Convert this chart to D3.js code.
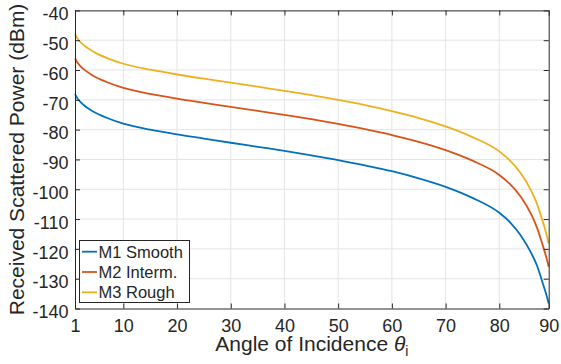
<!DOCTYPE html>
<html>
<head>
<meta charset="utf-8">
<script src="https://cdn.jsdelivr.net/npm/d3@7"></script>
<style>
  body { margin: 0; background: #fff; }
  svg { display: block; font-family: 'Liberation Sans', Arial, Helvetica, sans-serif; }
  .axis path { stroke: #262626; }
  .axis line { stroke: #262626; }
  .axis text { fill: #262626; font-size: 18px; }
</style>
</head>
<body>
<div class="chart"></div>
<script>
const w = 561,
      h = 364;

// angle of incidence (deg)
const angles = [1, 1.5, 2, 3, 4, 5, 7, 10, 15, 20, 25, 30, 35, 40, 45, 50, 55, 60, 65, 70, 75, 80, 82, 84, 86, 87, 88, 88.7, 89.2];

// received scattered power (dBm)
const smooth = [-68.1, -69.6, -70.7, -72.3, -73.5, -74.5, -76.1, -78.0, -80.0, -81.6, -83.0, -84.4, -85.75, -87.1, -88.6, -90.2, -92.0, -93.95, -96.35, -99.2, -102.9, -107.9, -111.1, -115.5, -121.6, -125.5, -131.0, -135.0, -138.3];
const interm = [-56.1, -57.6, -58.7, -60.3, -61.5, -62.5, -64.1, -66.0, -68.0, -69.6, -71.0, -72.35, -73.7, -75.05, -76.5, -78.1, -79.85, -81.8, -84.1, -86.85, -90.4, -95.2, -98.3, -102.5, -108.6, -112.8, -118.3, -122.5, -126.0];
const rough = [-48.0, -49.5, -50.6, -52.2, -53.4, -54.4, -56.0, -57.9, -59.9, -61.5, -62.9, -64.2, -65.6, -67.0, -68.45, -70.05, -71.8, -73.8, -76.1, -78.9, -82.5, -87.3, -90.4, -94.6, -100.7, -104.8, -110.3, -114.5, -118.2];

const seriesNames = ['M1 Smooth', 'M2 Interm.', 'M3 Rough'];
const xTicks = [1, 10, 20, 30, 40, 50, 60, 70, 80, 90];
const yTicks = [-40, -50, -60, -70, -80, -90, -100, -110, -120, -130, -140];

const colors = ['#0072BD', '#D95319', '#EDB120'];
const series = [smooth, interm, rough].map((vals, i) => ({
  name: seriesNames[i],
  color: colors[i],
  points: angles.map((a, j) => ({ a: a, v: vals[j] }))
}));

const pLeft = 75, pRight = 548.7, pTop = 10.4, pBottom = 308.5;

const svg = d3.select('.chart')
  .append('svg')
  .attr('width', w)
  .attr('height', h);

const xScale = d3.scaleLinear()
  .domain([1, 89.2])
  .range([pLeft, pRight])
  .clamp(true);

const yScale = d3.scaleLinear()
  .domain([-140, -40])
  .range([pBottom, pTop]);

// grid
const grid = svg.append('g').attr('class', 'grid');
grid.selectAll('.gx')
  .data(xTicks.slice(1, -1))
  .enter()
  .append('line')
  .attr('x1', d => xScale(d))
  .attr('x2', d => xScale(d))
  .attr('y1', pTop)
  .attr('y2', pBottom)
  .style('stroke', '#e4e4e4')
  .style('stroke-width', 1);
grid.selectAll('.gy')
  .data(yTicks.slice(1, -1))
  .enter()
  .append('line')
  .attr('x1', pLeft)
  .attr('x2', pRight)
  .attr('y1', d => yScale(d))
  .attr('y2', d => yScale(d))
  .style('stroke', '#e4e4e4')
  .style('stroke-width', 1);

// curves
const line = d3.line()
  .x(d => xScale(d.a))
  .y(d => yScale(d.v))
  .curve(d3.curveMonotoneX);

svg.selectAll('.curve')
  .data(series)
  .enter()
  .append('path')
  .attr('class', 'curve')
  .attr('d', d => line(d.points))
  .style('fill', 'none')
  .style('stroke', d => d.color)
  .style('stroke-width', 1.8)
  .style('stroke-linejoin', 'round');

// axes (ticks point inward, box on)
const plain = d => String(d);
const xAxis = d3.axisBottom(xScale).tickValues(xTicks).tickFormat(plain).tickSizeInner(-5).tickSizeOuter(0).tickPadding(11);
const yAxis = d3.axisLeft(yScale).tickValues(yTicks).tickFormat(plain).tickSizeInner(-5).tickSizeOuter(0).tickPadding(6.5);

svg.append('g')
  .attr('class', 'axis')
  .attr('transform', `translate(0, ${pBottom})`)
  .call(xAxis)
  .selectAll('text')
  .attr('dy', '0.71em');

svg.append('g')
  .attr('class', 'axis')
  .attr('transform', `translate(${pLeft}, 0)`)
  .call(yAxis)
  .selectAll('text')
  .attr('dy', '0.51em');

svg.append('g')
  .attr('class', 'axis')
  .attr('transform', `translate(0, ${pTop})`)
  .call(d3.axisTop(xScale).tickValues(xTicks).tickSizeInner(-5).tickSizeOuter(0).tickFormat(''));

svg.append('g')
  .attr('class', 'axis')
  .attr('transform', `translate(${pRight}, 0)`)
  .call(d3.axisRight(yScale).tickValues(yTicks).tickSizeInner(-5).tickSizeOuter(0).tickFormat(''));

// axis titles
const xTitle = svg.append('text')
  .attr('x', (pLeft + pRight) / 2)
  .attr('y', 351)
  .style('text-anchor', 'middle')
  .style('font-size', '21px')
  .style('fill', '#262626');
xTitle.append('tspan').text('Angle of Incidence ');
xTitle.append('tspan').style('font-style', 'italic').text('θ');
xTitle.append('tspan').attr('dy', 5).style('font-size', '14px').text('i');

svg.append('text')
  .attr('transform', `translate(24, ${(pTop + pBottom) / 2}) rotate(-90)`)
  .style('text-anchor', 'middle')
  .style('font-size', '21px')
  .style('fill', '#262626')
  .text('Received Scattered Power (dBm)');

// legend
const legend = svg.append('g').attr('id', 'legend');
legend.append('rect')
  .attr('x', 79.5)
  .attr('y', 240.5)
  .attr('width', 110)
  .attr('height', 62)
  .style('fill', '#fff')
  .style('stroke', '#262626')
  .style('stroke-width', 1);

const items = legend.selectAll('.legend-item')
  .data(series)
  .enter()
  .append('g')
  .attr('class', 'legend-item')
  .attr('transform', (d, i) => `translate(0, ${251.7 + i * 20.3})`);

items.append('line')
  .attr('x1', 82)
  .attr('x2', 97)
  .style('stroke', d => d.color)
  .style('stroke-width', 1.8);

items.append('text')
  .attr('x', 98.5)
  .attr('y', 6)
  .style('font-size', '16.5px')
  .style('fill', '#262626')
  .text(d => d.name);
</script>
</body>
</html>
